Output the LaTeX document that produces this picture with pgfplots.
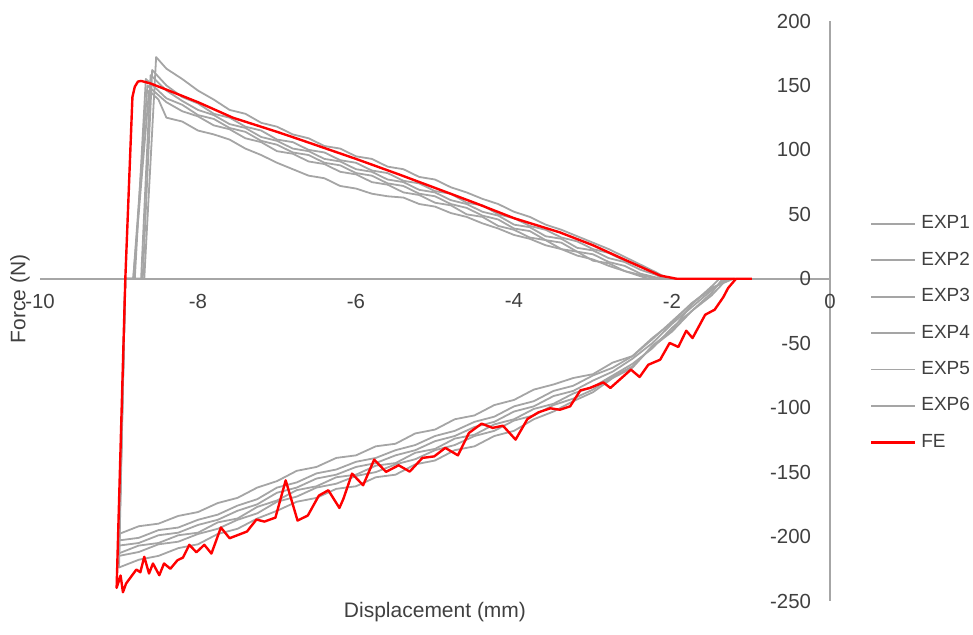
\documentclass[border=0pt]{standalone}
\usepackage{fontspec}
\setmainfont{Liberation Sans}
\usepackage{pgfplots}
\pgfplotsset{compat=1.18}

\definecolor{expgray}{RGB}{165,165,165}
\definecolor{axisgray}{RGB}{166,166,166}
\definecolor{txt}{RGB}{64,64,64}
\definecolor{fered}{RGB}{255,0,0}

\begin{document}
\begin{tikzpicture}
\begin{axis}[
    scale only axis,
    width=395pt, height=290pt,
    xmin=-10, xmax=0, ymin=-250, ymax=200,
    axis lines=middle,
    axis line style={draw=axisgray, line width=0.75pt, -},
    xtick={-10,-8,-6,-4,-2,0},
    xticklabels={-10,-8,-6,-4,-2,0},
    ytick={-250,-200,-150,-100,-50,0,50,100,150,200},
    yticklabels={-250,-200,-150,-100,-50,0,50,100,150,200},
    hide obscured x ticks=false, hide obscured y ticks=false,
    major tick length=0pt,
    tick label style={font=\fontsize{10.2}{12}\selectfont, text=txt},
    xticklabel style={anchor=north, yshift=-4pt},
    yticklabel style={anchor=east, xshift=-6pt},
    xlabel={Displacement (mm)},
    ylabel={Force (N)},
    every axis x label/.style={at={(axis description cs:0.5,-0.019)}, anchor=center,
        font=\fontsize{10.5}{12}\selectfont, text=txt},
    every axis y label/.style={at={(axis description cs:-0.0253,0.521)}, rotate=90, anchor=center,
        font=\fontsize{10.5}{12}\selectfont, text=txt},
    legend style={at={(axis description cs:1.0506,0.669)}, anchor=north west,
        draw=none, fill=none, inner sep=0pt, outer sep=0pt,
        font=\fontsize{9.5}{11}\selectfont, text=txt,
        row sep=7.2pt, column sep=1.5pt,
        nodes={inner sep=1pt, text height=7pt, text depth=2pt}},
    legend cell align=left,
    legend image code/.code={\draw[#1] (0pt,0pt) -- (22pt,0pt);},
    clip=false,
]
\coordinate (sw) at (rel axis cs:0,0);
\coordinate (ne) at (rel axis cs:1,1);

% EXP1
\addplot[expgray, line width=0.9pt, line join=round] coordinates {
(-1.22,0) (-1.5,-7) (-1.75,-19) (-2.0,-34) (-2.25,-46) (-2.5,-60) (-2.75,-65) (-3.0,-74)
(-3.25,-77) (-3.5,-82) (-3.75,-86) (-4.0,-94) (-4.25,-98) (-4.5,-106) (-4.75,-109) (-5.0,-117)
(-5.25,-120) (-5.5,-128) (-5.75,-130) (-6.0,-137) (-6.25,-139) (-6.5,-146) (-6.75,-149) (-7.0,-157)
(-7.25,-162) (-7.5,-170) (-7.75,-174) (-8.0,-181) (-8.25,-184) (-8.5,-190) (-8.75,-192) (-9.0,-198)
(-8.92,0) (-8.68,0) (-8.53,172) (-8.4,163) (-8.2,155) (-8.0,146) (-7.8,139) (-7.6,131) (-7.4,128)
(-7.2,121) (-7.0,118) (-6.8,112) (-6.6,109) (-6.4,103) (-6.2,101) (-6.0,95) (-5.8,93) (-5.6,87)
(-5.4,85) (-5.2,79) (-5.0,77) (-4.8,71) (-4.6,67) (-4.4,62) (-4.2,58) (-4.0,52) (-3.8,48) (-3.6,42)
(-3.4,38) (-3.2,33) (-3.0,28) (-2.8,23) (-2.6,17) (-2.4,11) (-2.2,5) (-2.05,0)
};
% EXP2
\addplot[expgray, line width=0.9pt, line join=round] coordinates {
(-1.28,0) (-1.5,-8) (-1.75,-19) (-2.0,-33) (-2.25,-47) (-2.5,-60) (-2.75,-69) (-3.0,-75)
(-3.25,-83) (-3.5,-87) (-3.75,-95) (-4.0,-99) (-4.25,-107) (-4.5,-111) (-4.75,-118) (-5.0,-122)
(-5.25,-129) (-5.5,-133) (-5.75,-139) (-6.0,-142) (-6.25,-148) (-6.5,-151) (-6.75,-158) (-7.0,-162)
(-7.25,-171) (-7.5,-176) (-7.75,-183) (-8.0,-187) (-8.25,-193) (-8.5,-195) (-8.75,-201) (-9.0,-203)
(-8.92,0) (-8.70,0) (-8.58,162) (-8.4,150) (-8.2,141) (-8.0,136) (-7.8,128) (-7.6,125) (-7.4,118)
(-7.2,115) (-7.0,108) (-6.8,106) (-6.6,100) (-6.4,98) (-6.2,92) (-6.0,90) (-5.8,84) (-5.6,82)
(-5.4,76) (-5.2,74) (-5.0,68) (-4.8,66) (-4.6,59) (-4.4,57) (-4.2,50) (-4.0,47) (-3.8,41) (-3.6,38)
(-3.4,32) (-3.2,29) (-3.0,23) (-2.8,20) (-2.6,14) (-2.4,10) (-2.2,4) (-2.08,0)
};
% EXP3
\addplot[expgray, line width=0.9pt, line join=round] coordinates {
(-1.32,0) (-1.5,-9) (-1.75,-22) (-2.0,-35) (-2.25,-50) (-2.5,-62) (-2.75,-72) (-3.0,-79)
(-3.25,-87) (-3.5,-91) (-3.75,-99) (-4.0,-103) (-4.25,-111) (-4.5,-115) (-4.75,-122) (-5.0,-126)
(-5.25,-133) (-5.5,-137) (-5.75,-143) (-6.0,-146) (-6.25,-152) (-6.5,-155) (-6.75,-162) (-7.0,-166)
(-7.25,-175) (-7.5,-180) (-7.75,-187) (-8.0,-191) (-8.25,-197) (-8.5,-199) (-8.75,-205) (-9.0,-207)
(-8.92,0) (-8.72,0) (-8.60,158) (-8.4,146) (-8.2,138) (-8.0,131) (-7.8,127) (-7.6,120) (-7.4,117)
(-7.2,110) (-7.0,107) (-6.8,101) (-6.6,99) (-6.4,93) (-6.2,91) (-6.0,85) (-5.8,83) (-5.6,77)
(-5.4,75) (-5.2,69) (-5.0,67) (-4.8,61) (-4.6,58) (-4.4,52) (-4.2,49) (-4.0,42) (-3.8,40) (-3.6,33)
(-3.4,31) (-3.2,24) (-3.0,22) (-2.8,16) (-2.6,13) (-2.4,7) (-2.2,3) (-2.12,0)
};
% EXP4
\addplot[expgray, line width=0.9pt, line join=round] coordinates {
(-1.36,0) (-1.5,-11) (-1.75,-25) (-2.0,-38) (-2.25,-54) (-2.5,-66) (-2.75,-75) (-3.0,-84)
(-3.25,-89) (-3.5,-97) (-3.75,-101) (-4.0,-109) (-4.25,-113) (-4.5,-121) (-4.75,-124) (-5.0,-132)
(-5.25,-135) (-5.5,-143) (-5.75,-145) (-6.0,-152) (-6.25,-154) (-6.5,-161) (-6.75,-164) (-7.0,-172)
(-7.25,-177) (-7.5,-186) (-7.75,-189) (-8.0,-197) (-8.25,-199) (-8.5,-205) (-8.75,-207) (-9.0,-213)
(-8.92,0) (-8.80,0) (-8.66,155) (-8.4,140) (-8.2,135) (-8.0,127) (-7.8,124) (-7.6,117) (-7.4,114)
(-7.2,107) (-7.0,104) (-6.8,98) (-6.6,96) (-6.4,90) (-6.2,88) (-6.0,82) (-5.8,80) (-5.6,74)
(-5.4,72) (-5.2,66) (-5.0,64) (-4.8,58) (-4.6,55) (-4.4,49) (-4.2,46) (-4.0,39) (-3.8,37) (-3.6,30)
(-3.4,28) (-3.2,21) (-3.0,19) (-2.8,13) (-2.6,10) (-2.4,4) (-2.2,1) (-2.15,0)
};
% EXP5
\addplot[expgray, line width=0.9pt, line join=round] coordinates {
(-1.30,0) (-1.5,-13) (-1.75,-25) (-2.0,-41) (-2.25,-53) (-2.5,-68) (-2.75,-76) (-3.0,-86)
(-3.25,-93) (-3.5,-98) (-3.75,-106) (-4.0,-110) (-4.25,-118) (-4.5,-122) (-4.75,-129) (-5.0,-133)
(-5.25,-140) (-5.5,-144) (-5.75,-150) (-6.0,-153) (-6.25,-159) (-6.5,-162) (-6.75,-169) (-7.0,-173)
(-7.25,-182) (-7.5,-187) (-7.75,-194) (-8.0,-198) (-8.25,-204) (-8.5,-206) (-8.75,-212) (-9.0,-215)
(-8.92,0) (-8.82,0) (-8.64,150) (-8.4,137) (-8.2,130) (-8.0,126) (-7.8,119) (-7.6,116) (-7.4,109)
(-7.2,106) (-7.0,99) (-6.8,97) (-6.6,91) (-6.4,89) (-6.2,83) (-6.0,81) (-5.8,75) (-5.6,73)
(-5.4,67) (-5.2,65) (-5.0,59) (-4.8,57) (-4.6,50) (-4.4,48) (-4.2,41) (-4.0,38) (-3.8,32) (-3.6,30)
(-3.4,23) (-3.2,21) (-3.0,14) (-2.8,12) (-2.6,6) (-2.4,3) (-2.2,0)
};
% EXP6
\addplot[expgray, line width=0.9pt, line join=round] coordinates {
(-1.40,0) (-1.5,-6) (-1.75,-20) (-2.0,-40) (-2.25,-52) (-2.5,-69) (-2.75,-77) (-3.0,-88)
(-3.25,-95) (-3.5,-103) (-3.75,-109) (-4.0,-118) (-4.25,-122) (-4.5,-130) (-4.75,-133) (-5.0,-141)
(-5.25,-144) (-5.5,-152) (-5.75,-154) (-6.0,-161) (-6.25,-163) (-6.5,-170) (-6.75,-173) (-7.0,-180)
(-7.25,-186) (-7.5,-194) (-7.75,-198) (-8.0,-206) (-8.25,-209) (-8.5,-215) (-8.75,-218) (-9.0,-224)
(-8.92,0) (-8.82,0) (-8.62,146) (-8.5,139) (-8.4,125) (-8.2,122) (-8.0,115) (-7.8,112) (-7.6,108)
(-7.4,101) (-7.2,96) (-7.0,90) (-6.8,85) (-6.6,80) (-6.4,78) (-6.2,72) (-6.0,70) (-5.8,66)
(-5.6,64) (-5.4,63) (-5.2,58) (-5.0,56) (-4.8,51) (-4.6,48) (-4.4,43) (-4.2,39) (-4.0,34) (-3.8,31)
(-3.6,26) (-3.4,23) (-3.2,18) (-3.0,15) (-2.8,10) (-2.6,6) (-2.4,2) (-2.3,0)
};
% FE
\addplot[fered, line width=1.2pt, line join=round] coordinates {
(-0.99,0) (-1.19,0) (-1.29,-7.2) (-1.35,-14.2) (-1.46,-24.0) (-1.58,-27.9) (-1.74,-46.0)
(-1.82,-40.3) (-1.92,-52.9) (-2.03,-49.8) (-2.15,-62.8) (-2.30,-66.7) (-2.41,-76.2) (-2.52,-70.5)
(-2.78,-84.7) (-2.87,-80.4) (-3.04,-84.7) (-3.16,-86.6) (-3.29,-99.0) (-3.42,-101.6) (-3.54,-100.5)
(-3.69,-103.6) (-3.83,-108.8) (-3.98,-124.8) (-4.14,-114.0) (-4.27,-115.7) (-4.41,-112.4)
(-4.57,-119.6) (-4.71,-137.0) (-4.87,-131.2) (-5.01,-137.8) (-5.16,-139.0) (-5.32,-149.6)
(-5.46,-144.7) (-5.62,-149.8) (-5.77,-140.3) (-5.91,-160.2) (-6.05,-151.2) (-6.16,-170.8)
(-6.21,-177.8) (-6.35,-164.1) (-6.47,-168.2) (-6.61,-183.7) (-6.74,-187.6) (-6.89,-156.4)
(-7.02,-185.3) (-7.16,-188.4) (-7.26,-186.8) (-7.38,-196.1) (-7.60,-201.3) (-7.71,-193.0)
(-7.83,-213.2) (-7.92,-206.4) (-8.02,-212.2) (-8.11,-206.4) (-8.19,-216.3) (-8.26,-218.4)
(-8.35,-225.0) (-8.43,-220.9) (-8.49,-230.0) (-8.57,-220.9) (-8.62,-228.7) (-8.68,-215.7)
(-8.73,-227.7) (-8.78,-225.6) (-8.91,-236.4) (-8.95,-243.2) (-8.98,-230.2) (-9.03,-239.8)
(-8.92,0) (-8.83,141) (-8.80,149) (-8.76,153) (-8.72,153.5) (-8.6,151.5) (-8.39,146.5)
(-8.0,137) (-7.56,125) (-7.0,114) (-6.71,108) (-6.0,93) (-5.44,80.6) (-5.0,70.5) (-4.5,59)
(-4.0,47) (-3.42,36) (-3.0,26) (-2.57,14) (-2.37,8.5) (-2.15,2.5) (-1.94,0) (-1.2,0)
};
\legend{EXP1,EXP2,EXP3,EXP4,EXP5,EXP6,FE}
\end{axis}
\pgfresetboundingbox
\path (sw) ++(-20pt,-17pt) coordinate (bbsw);
\path (ne) ++(71.5pt,10.5pt) coordinate (bbne);
\path (bbsw) rectangle (bbne);
\end{tikzpicture}
\end{document}
